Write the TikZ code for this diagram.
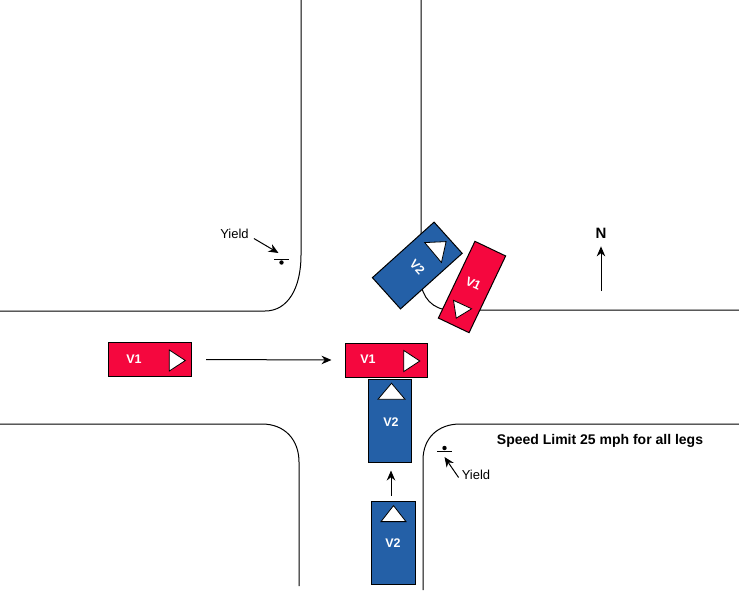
\documentclass[tikz,border=0pt]{standalone}
\usepackage{fontspec}
\setmainfont{Liberation Sans}
\usepackage{xcolor}
\usetikzlibrary{arrows.meta, shapes.geometric}
\definecolor{carred}{RGB}{245,7,62}
\definecolor{carblue}{RGB}{36,96,167}
\tikzset{
  curb/.style={line width=1pt},
  carone/.style={draw, fill=carred, line width=1pt, minimum width=83pt, minimum height=34pt, inner sep=0pt},
  cartwo/.style={draw, fill=carblue, line width=1pt, minimum width=43pt, minimum height=83pt, inner sep=0pt},
  carlbl/.style={text=white, font=\fontsize{12.5}{14}\selectfont\bfseries, inner sep=0pt},
  tri/.style={draw, fill=white, line width=0.8pt, isosceles triangle, isosceles triangle stretches,
              minimum width=21pt, minimum height=16pt, inner sep=0pt},
  flow/.style={-{Stealth[length=10pt, width=8.5pt]}, line width=1pt},
  txt/.style={font=\fontsize{13}{15}\selectfont, inner sep=0pt}
}
\begin{document}
\begin{tikzpicture}[x=1pt, y=-1pt]
  \useasboundingbox (0,0) rectangle (739,590);
  % curbs
  \draw[curb] (301,0) -- (301,255) .. controls (301,288) and (288,311) .. (265,311) -- (0,311);
  \draw[curb] (421,0) -- (421,280) .. controls (421,297) and (433,310) .. (450,310) -- (739,310);
  \draw[curb] (0,424) -- (262,424) .. controls (285,424) and (299,440) .. (299,462) -- (299,586);
  \draw[curb] (423,590) -- (423,460) .. controls (423,438) and (438,424) .. (460,424) -- (739,424);
  % vehicles
  \node[carone] (v1start) at (150,359.5) {};
  \node[tri] (v1starttri) at (175,360.5) {};
  \node[carlbl] (v1startlbl) at (134,359) {V1};
  \node[cartwo] (v2impact) at (390,420.5) {};
  \node[tri, rotate=90, minimum width=27pt] (v2impacttri) at (391.5,393) {};
  \node[carlbl] (v2impactlbl) at (391,422) {V2};
  \node[carone, minimum width=82pt] (v1impact) at (386,360) {};
  \node[tri] (v1impacttri) at (409.5,361) {};
  \node[carlbl] (v1impactlbl) at (368,359) {V1};
  \node[cartwo, minimum width=44pt] (v2start) at (393,542.5) {};
  \node[tri, rotate=90, minimum width=25pt] (v2starttri) at (393.5,515.5) {};
  \node[carlbl] (v2startlbl) at (393,543) {V2};
  \node[cartwo, minimum width=42pt, rotate=-48] (v2rest) at (417.3,265.5) {};
  \node[tri, rotate=40, minimum width=26pt, minimum height=17pt] (v2resttri) at (438,248.4) {};
  \node[carlbl, rotate=-48] (v2restlbl) at (417.3,267) {V2};
  \node[carone, minimum width=34pt, minimum height=85pt, rotate=-25.5] (v1rest) at (472,287) {};
  \node[tri, rotate=-115, minimum width=20pt, minimum height=15pt] (v1resttri) at (460.3,309.4) {};
  \node[carlbl, rotate=-25] (v1restlbl) at (473.3,283.5) {V1};
  % travel arrows
  \draw[flow] ([xshift=14pt]v1start.east) -- ([xshift=-13pt]v1impact.west);
  \draw[flow] ([shift={(-2pt,5pt)}]v2start.north) -- ([shift={(1pt,-8pt)}]v2impact.south);
  % north
  \node[font=\fontsize{15}{17}\selectfont\bfseries, inner sep=0pt] (north) at (601,233) {N};
  \coordinate (northbase) at (601,291);
  \draw[flow] (northbase) -- ([yshift=-8pt]north.south);
  % yield signs
  \node[txt] (yieldnw) at (234.5,233.5) {Yield};
  \coordinate (signnw) at (281.5,259);
  \draw[line width=0.9pt] ([xshift=-7.5pt]signnw) -- ([xshift=7.5pt]signnw);
  \fill ([yshift=-3.5pt]signnw) circle (2.2pt);
  \draw[flow] ([shift={(-4pt,-7pt)}]yieldnw.east) ++(9pt,2pt) -- ([shift={(-3pt,6pt)}]signnw);
  \node[txt] (yieldse) at (476,474.5) {Yield};
  \coordinate (signse) at (444.5,451);
  \draw[line width=0.9pt] ([xshift=-7.5pt]signse) -- ([xshift=7.5pt]signse);
  \fill ([yshift=3pt]signse) circle (2.2pt);
  \draw[flow] ([shift={(-3pt,-3pt)}]yieldse.west) -- ([yshift=-6pt]signse);
  \node[font=\fontsize{14}{16}\selectfont\bfseries, inner sep=0pt] (limit) at (600,440.5) {Speed Limit 25 mph for all legs};
\end{tikzpicture}
\end{document}
